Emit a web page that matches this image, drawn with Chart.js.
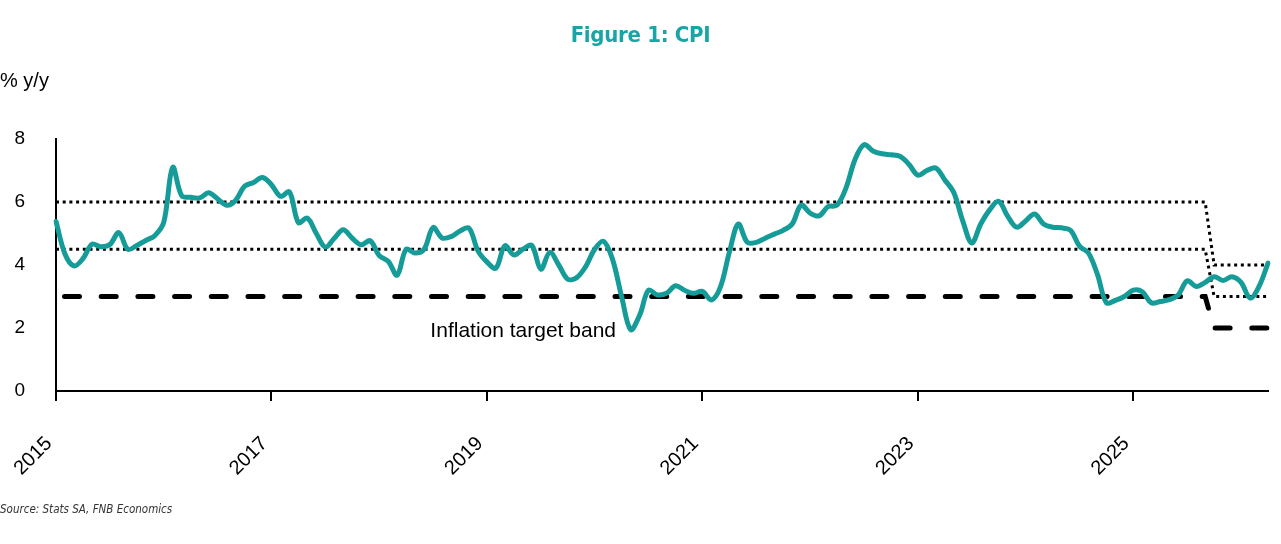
<!DOCTYPE html>
<html>
<head>
<meta charset="utf-8">
<script src="https://cdn.jsdelivr.net/npm/chart.js@4.4.1/dist/chart.umd.min.js"></script>
<style>
  html, body { margin: 0; padding: 0; background: #fff; }
  #wrap { position: relative; width: 1281px; height: 544px; }
  #chart { position: absolute; left: 0; top: 0; }
  #title { position: absolute; top: 22px; left: 0; width: 1281px; text-align: center;
    font: bold 22px "DejaVu Sans Condensed", "DejaVu Sans", sans-serif; color: #19a5a5; letter-spacing: -0.3px; }
  #unit { position: absolute; left: 0; top: 69px; font: 20px "Liberation Sans", Arial, sans-serif; color: #000; }
  #source { position: absolute; left: 0; top: 502px; font: italic 11.5px "DejaVu Sans Condensed", sans-serif; color: #333; }
</style>
</head>
<body>
<div id="wrap">
  <canvas id="chart" width="1281" height="544"></canvas>
  <div id="title">Figure 1: CPI</div>
  <div id="unit">% y/y</div>
  <div id="source">Source: Stats SA, FNB Economics</div>
</div>
<script>
// monthly CPI, % y/y (first point = Jan 2015)
const startYear = 2015;
const cpi = [
  5.38, 4.35, 3.97, 4.2, 4.66, 4.58, 4.65, 5.03, 4.5, 4.62, 4.78, 4.93,
  5.35, 7.1, 6.2, 6.15, 6.13, 6.29, 6.1, 5.9, 6.05, 6.5, 6.62, 6.78,
  6.55, 6.18, 6.32, 5.35, 5.49, 5.0, 4.57, 4.85, 5.12, 4.85, 4.64, 4.77,
  4.3, 4.12, 3.68, 4.5, 4.38, 4.5, 5.19, 4.86, 4.9, 5.08, 5.17, 4.45,
  4.1, 3.9, 4.61, 4.32, 4.5, 4.62, 3.87, 4.4, 4.0, 3.55, 3.6, 3.95,
  4.5, 4.75, 4.17, 3.0, 1.95, 2.4, 3.2, 3.05, 3.1, 3.34, 3.2, 3.1,
  3.16, 2.89, 3.3, 4.4, 5.3, 4.72, 4.72, 4.85, 4.98, 5.1, 5.3, 5.9,
  5.65, 5.56, 5.85, 5.9, 6.45, 7.35, 7.82, 7.62, 7.53, 7.5, 7.45, 7.2,
  6.85, 7.0, 7.08, 6.7, 6.3, 5.4, 4.7, 5.3, 5.75, 6.02, 5.55, 5.2,
  5.4, 5.62, 5.3, 5.2, 5.18, 5.1, 4.6, 4.38, 3.7, 2.8, 2.88, 3.0,
  3.2, 3.15, 2.8, 2.84, 2.9, 3.05, 3.5, 3.32, 3.45, 3.63, 3.51, 3.63,
  3.45, 2.95, 3.32, 4.06
];

// inflation target: old band, then new band from switchMonth onwards
const bandUpper = [6, 4];
const bandMid = [4.5, 3];
const bandLower = [3, 2];
const switchMonth = 129;

const yTicks = [0, 2, 4, 6, 8];
const labelEvery = 24;

const months = cpi.map((v, i) => {
  const y = startYear + Math.floor(i / 12);
  const m = (i % 12) + 1;
  return y + "-" + String(m).padStart(2, "0");
});

function bandSeries(pair) {
  return months.map((m, i) => (i < switchMonth ? pair[0] : pair[1]));
}

const noteLabel = {
  id: "noteLabel",
  afterDatasetsDraw(chart) {
    const { ctx, scales } = chart;
    ctx.save();
    ctx.font = '21px "Liberation Sans", Arial, sans-serif';
    ctx.fillStyle = "#000";
    ctx.textBaseline = "middle";
    ctx.textAlign = "left";
    ctx.fillText("Inflation target band", scales.x.getPixelForValue(41.7), scales.y.getPixelForValue(1.9));
    ctx.restore();
  },
};

const fontFamily = '"Liberation Sans", Arial, sans-serif';

new Chart(document.getElementById("chart"), {
  type: "line",
  data: {
    labels: months,
    datasets: [
      {
        label: "CPI",
        data: cpi,
        borderColor: "#169c98",
        borderWidth: 5,
        pointRadius: 0,
        tension: 0.35,
        borderCapStyle: "round",
        borderJoinStyle: "round",
      },
      {
        label: "Upper",
        data: bandSeries(bandUpper),
        borderColor: "#000",
        borderWidth: 3,
        borderDash: [3, 3.7],
        pointRadius: 0,
        tension: 0,
      },
      {
        label: "Mid",
        data: bandSeries(bandMid),
        borderColor: "#000",
        borderWidth: 3,
        borderDash: [3, 3.7],
        pointRadius: 0,
        tension: 0,
      },
      {
        label: "Lower",
        data: bandSeries(bandLower),
        borderColor: "#000",
        borderWidth: 5,
        borderDash: [15, 21.7],
        borderDashOffset: 28.2,
        borderCapStyle: "round",
        pointRadius: 0,
        tension: 0,
      },
    ],
  },
  options: {
    responsive: false,
    animation: false,
    layout: { padding: { top: 139, right: 13, left: 0, bottom: 0 } },
    plugins: {
      legend: { display: false },
      tooltip: { enabled: false },
    },
    scales: {
      x: {
        offset: false,
        afterFit: (s) => {
          s.height = 153;
          s.paddingLeft = 0;
          s.paddingRight = 0;
        },
        grid: { display: true, drawOnChartArea: false, drawTicks: true, tickLength: 10, color: "#000", lineWidth: 2 },
        border: { display: true, color: "#000", width: 2 },
        ticks: {
          autoSkip: false,
          minRotation: 45,
          maxRotation: 45,
          padding: 31,
          labelOffset: -7,
          color: "#000",
          font: { family: fontFamily, size: 20 },
          callback: (v, i) => (i % labelEvery === 0 ? months[i].slice(0, 4) : null),
        },
      },
      y: {
        min: yTicks[0],
        max: yTicks[yTicks.length - 1],
        afterFit: (s) => { s.width = 56; },
        afterBuildTicks: (s) => { s.ticks = yTicks.map((v) => ({ value: v })); },
        grid: { display: false },
        border: { display: true, color: "#000", width: 2 },
        ticks: { padding: 23, color: "#000", font: { family: fontFamily, size: 19 } },
      },
    },
  },
  plugins: [noteLabel],
});
</script>
</body>
</html>
